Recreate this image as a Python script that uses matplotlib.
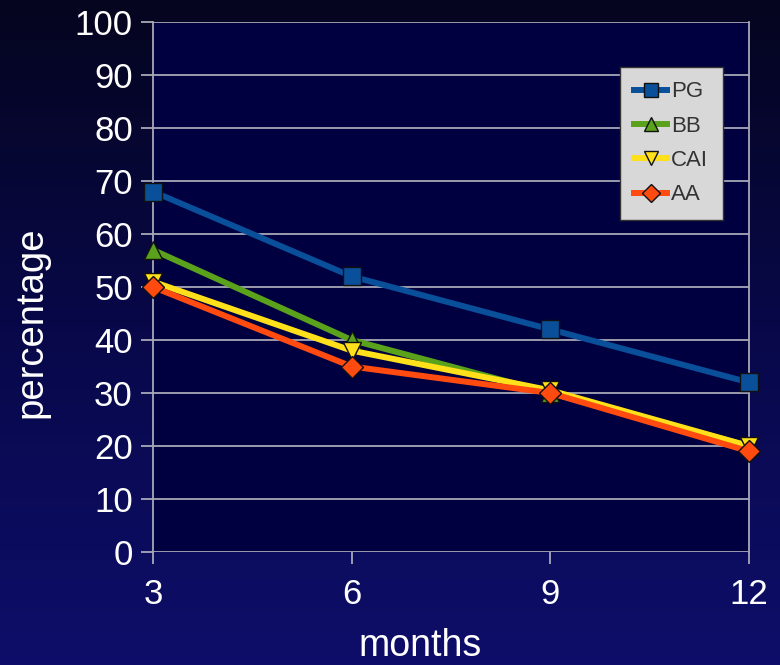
import numpy as np
import matplotlib
matplotlib.use("Agg")
import matplotlib.pyplot as plt
from matplotlib.colors import LinearSegmentedColormap

months = [3, 6, 9, 12]
pg = [68, 52, 42, 32]
bb = [57, 40, 30, 20]
cai = [51, 38, 30.5, 20]
aa = [50, 35, 30, 19]
yticks = list(range(0, 101, 10))

plt.rcParams['font.family'] = ['Liberation Sans', 'DejaVu Sans']

W, H = 780, 665
fig = plt.figure(figsize=(W / 100, H / 100), dpi=100)

# vertical gradient background
bg = fig.add_axes([0, 0, 1, 1], zorder=0)
cmap = LinearSegmentedColormap.from_list("bg", ["#05051f", "#08084a", "#0e0e6a"])
bg.imshow(np.linspace(0, 1, 256).reshape(-1, 1), aspect='auto', cmap=cmap,
          extent=[0, 1, 0, 1], origin='upper')
bg.axis('off')

ax = fig.add_axes([153 / W, 1 - 552 / H, 596 / W, 530 / H], zorder=1)
ax.set_facecolor("#000040")

grid_c = "#a8a8b8"
for y in yticks:
    ax.axhline(y, color=grid_c, lw=1.3, zorder=1)

series = [
    ("PG", pg, "#0a4f9a", "s", 13),
    ("BB", bb, "#5ba21c", "^", 13),
    ("CAI", cai, "#ffe01a", "v", 13),
    ("AA", aa, "#ff4a10", "D", 11),
]
for i, (name, vals, col, mk, ms) in enumerate(series):
    ax.plot(months, vals, color=col, lw=4.3, marker=mk, markersize=ms,
            markerfacecolor=col, markeredgecolor="#111111", markeredgewidth=1.0,
            label=name, zorder=3 + i, clip_on=False)

ax.set_xlim(3, 12)
ax.set_ylim(0, 100)
ax.set_xticks(months)
ax.set_yticks(yticks)
ax.tick_params(colors=grid_c, labelcolor="white", labelsize=25, length=8.5, width=1.3)
ax.tick_params(axis='x', pad=10)
ax.tick_params(axis='y', pad=6)
for s in ['left', 'right']:
    ax.spines[s].set_color(grid_c)
    ax.spines[s].set_linewidth(1.3)
for s in ['top', 'bottom']:
    ax.spines[s].set_visible(False)

fig.text(31 / W, 1 - 322 / H, "percentage", color="white", fontsize=27.5,
         rotation=90, ha='center', va='center')
fig.text(420 / W, 1 - 656 / H, "months", color="white", fontsize=27,
         ha='center', va='baseline')

leg = ax.legend(loc='upper left', bbox_to_anchor=(467 / 596, 485 / 530), frameon=True,
                fancybox=False, facecolor="#d8d8d8", edgecolor="#333333",
                fontsize=16, handlelength=1.45, handletextpad=0.2, markerscale=0.8,
                labelspacing=0.6, borderpad=0.65, borderaxespad=0, framealpha=1)
for t in leg.get_texts():
    t.set_color("#333333")
leg.set_zorder(10)

fig.savefig("out.png", dpi=100)
